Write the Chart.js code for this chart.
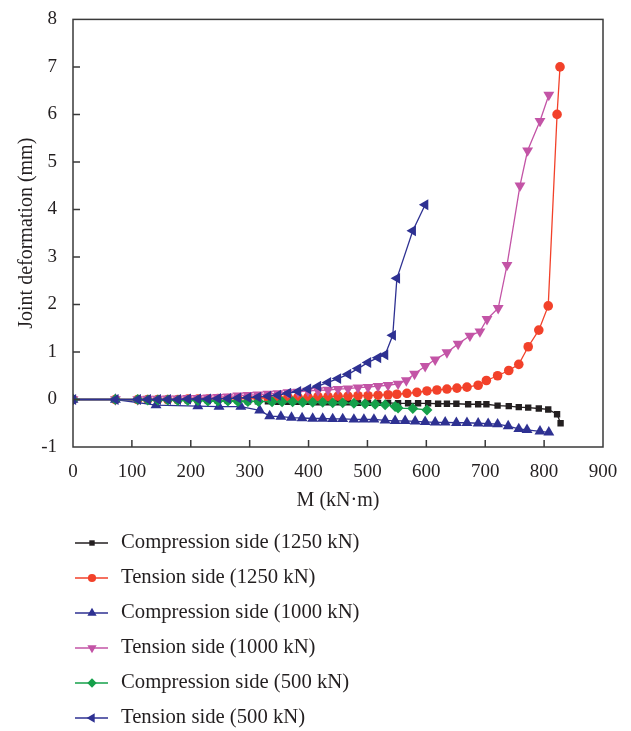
<!DOCTYPE html>
<html>
<head>
<meta charset="utf-8">
<script src="https://cdn.jsdelivr.net/npm/chart.js@4.4.1/dist/chart.umd.min.js"></script>
<style>
  html, body { margin: 0; padding: 0; background: #fff; }
  #wrap { width: 631px; height: 731px; }
</style>
</head>
<body>
<div id="wrap"><canvas id="chart" width="631" height="731"></canvas></div>
<script>
// axis ranges / ticks
const xTicks = [0, 100, 200, 300, 400, 500, 600, 700, 800, 900];
const yTicks = [-1, 0, 1, 2, 3, 4, 5, 6, 7, 8];

// Compression side (1250 kN)
const comp1250X = [0, 72, 110, 127, 144, 161, 178, 195, 212, 229, 246, 263, 280, 297, 314, 331, 348, 365, 382, 399, 416, 433, 450, 467, 484, 501, 518, 535, 552, 569, 586, 603, 620, 635, 651, 671, 688, 702, 721, 740, 757, 773, 791, 807, 822, 828];
const comp1250Y = [0, 0, -0.01, -0.01, -0.01, -0.01, -0.02, -0.02, -0.02, -0.02, -0.03, -0.03, -0.03, -0.04, -0.04, -0.04, -0.05, -0.05, -0.05, -0.05, -0.06, -0.06, -0.06, -0.06, -0.07, -0.07, -0.07, -0.07, -0.08, -0.08, -0.08, -0.08, -0.09, -0.09, -0.09, -0.1, -0.1, -0.1, -0.13, -0.14, -0.16, -0.17, -0.19, -0.21, -0.31, -0.5];

// Tension side (1250 kN)
const tens1250X = [0, 72, 110, 127, 144, 161, 178, 195, 212, 229, 246, 263, 280, 297, 314, 331, 348, 365, 382, 399, 416, 433, 450, 467, 484, 501, 518, 535, 550, 567, 584, 601, 618, 635, 652, 669, 688, 702, 721, 740, 757, 773, 791, 807, 822, 827];
const tens1250Y = [0, 0, 0, 0, 0, 0, 0, 0.01, 0.01, 0.01, 0.02, 0.02, 0.02, 0.03, 0.03, 0.04, 0.04, 0.05, 0.05, 0.05, 0.06, 0.06, 0.07, 0.07, 0.08, 0.08, 0.09, 0.1, 0.11, 0.13, 0.15, 0.18, 0.2, 0.22, 0.24, 0.26, 0.3, 0.4, 0.5, 0.61, 0.74, 1.11, 1.46, 1.97, 6.0, 7.0];

// Compression side (1000 kN)
const comp1000X = [0, 72, 141, 212, 248, 285, 317, 334, 353, 371, 389, 407, 424, 441, 458, 477, 494, 511, 530, 547, 564, 581, 598, 615, 632, 651, 669, 688, 705, 721, 739, 757, 771, 793, 808];
const comp1000Y = [0, 0, -0.12, -0.14, -0.15, -0.15, -0.23, -0.35, -0.36, -0.38, -0.39, -0.4, -0.4, -0.41, -0.41, -0.42, -0.42, -0.42, -0.44, -0.45, -0.45, -0.46, -0.47, -0.48, -0.48, -0.49, -0.49, -0.5, -0.51, -0.52, -0.56, -0.62, -0.64, -0.67, -0.69];

// Tension side (1000 kN)
const tens1000X = [0, 72, 110, 127, 144, 161, 178, 195, 212, 229, 246, 263, 280, 297, 314, 331, 348, 365, 382, 399, 416, 433, 450, 467, 484, 501, 518, 535, 552, 566, 580, 598, 615, 635, 654, 674, 691, 703, 722, 737, 759, 772, 793, 808];
const tens1000Y = [0, 0, 0, 0.01, 0.01, 0.02, 0.02, 0.03, 0.03, 0.04, 0.05, 0.06, 0.08, 0.09, 0.1, 0.12, 0.13, 0.15, 0.16, 0.18, 0.19, 0.2, 0.22, 0.23, 0.25, 0.26, 0.28, 0.3, 0.33, 0.4, 0.54, 0.7, 0.84, 0.99, 1.17, 1.34, 1.43, 1.69, 1.92, 2.83, 4.5, 5.24, 5.86, 6.41];

// Compression side (500 kN)
const comp500X = [0, 72, 110, 127, 144, 161, 178, 195, 212, 229, 246, 263, 280, 297, 315, 338, 355, 373, 390, 407, 424, 441, 458, 477, 496, 513, 530, 547, 552, 577, 601];
const comp500Y = [0, 0, 0, -0.01, -0.01, -0.01, -0.02, -0.02, -0.02, -0.03, -0.03, -0.03, -0.04, -0.04, -0.04, -0.05, -0.05, -0.05, -0.06, -0.06, -0.06, -0.07, -0.07, -0.08, -0.09, -0.1, -0.11, -0.15, -0.18, -0.19, -0.22];

// Tension side (500 kN)
const tens500X = [0, 72, 110, 127, 144, 161, 178, 195, 212, 229, 246, 263, 280, 297, 314, 331, 348, 365, 382, 399, 416, 433, 450, 467, 484, 501, 518, 530, 543, 550, 577, 598];
const tens500Y = [0, 0, 0, 0, 0, 0, 0, 0.01, 0.01, 0.01, 0.02, 0.02, 0.03, 0.04, 0.05, 0.07, 0.09, 0.13, 0.17, 0.22, 0.28, 0.36, 0.44, 0.53, 0.65, 0.78, 0.88, 0.94, 1.35, 2.55, 3.55, 4.1];

const FONT = '"Liberation Serif", "Times New Roman", serif';
const TXT = '#231f20';

function pts(xs, ys) {
  return xs.map((x, i) => ({ x: x, y: ys[i] }));
}

// marker sizes roughly as in the picture
const RADIUS = { rect: 4.5, circle: 4.8, triangle: 6.3, rectRot: 5.5 };

function series(label, xs, ys, color, style, rot, order) {
  return {
    label: label,
    data: pts(xs, ys),
    borderColor: color,
    backgroundColor: color,
    borderWidth: 1.3,
    pointStyle: style,
    rotation: rot,
    pointRadius: RADIUS[style],
    pointBorderWidth: 0,
    pointBackgroundColor: color,
    tension: 0,
    order: order
  };
}

const datasets = [
  series('Compression side (1250 kN)', comp1250X, comp1250Y, '#231f20', 'rect', 0, 5),
  series('Tension side (1250 kN)', tens1250X, tens1250Y, '#f2412a', 'circle', 0, 4),
  series('Compression side (1000 kN)', comp1000X, comp1000Y, '#2e3192', 'triangle', 0, 3),
  series('Tension side (1000 kN)', tens1000X, tens1000Y, '#c354a6', 'triangle', 180, 2),
  series('Compression side (500 kN)', comp500X, comp500Y, '#15a04a', 'rectRot', 0, 1),
  series('Tension side (500 kN)', tens500X, tens500Y, '#2e3192', 'triangle', -90, 0)
];

// frame + inward ticks
const framePlugin = {
  id: 'frame',
  afterDatasetsDraw(chart) {
    const { ctx, chartArea: a, scales } = chart;
    ctx.save();
    ctx.strokeStyle = '#3a3a3a';
    ctx.lineWidth = 1.5;
    ctx.strokeRect(a.left, a.top, a.right - a.left, a.bottom - a.top);
    ctx.beginPath();
    xTicks.forEach(v => {
      if (v === xTicks[0] || v === xTicks[xTicks.length - 1]) return;
      const px = scales.x.getPixelForValue(v);
      ctx.moveTo(px, a.bottom);
      ctx.lineTo(px, a.bottom - 7);
    });
    yTicks.forEach(v => {
      if (v === yTicks[0] || v === yTicks[yTicks.length - 1]) return;
      const py = scales.y.getPixelForValue(v);
      ctx.moveTo(a.left, py);
      ctx.lineTo(a.left + 7, py);
    });
    ctx.stroke();
    ctx.restore();
  }
};

// legend below the plot: line with marker in the middle
const legendPlugin = {
  id: 'sideLegend',
  afterDraw(chart) {
    const ctx = chart.ctx;
    ctx.save();
    chart.data.datasets.forEach((ds, i) => {
      const y = 543 + i * 35;
      ctx.strokeStyle = ds.borderColor;
      ctx.lineWidth = 1.5;
      ctx.beginPath();
      ctx.moveTo(75, y);
      ctx.lineTo(108, y);
      ctx.stroke();
      ctx.fillStyle = ds.backgroundColor;
      Chart.helpers.drawPoint(ctx, {
        pointStyle: ds.pointStyle,
        rotation: ds.rotation,
        radius: ds.pointRadius * 0.85,
        borderWidth: 0
      }, 92, y);
      ctx.fillStyle = TXT;
      ctx.font = '20.7px ' + FONT;
      ctx.textBaseline = 'middle';
      ctx.textAlign = 'left';
      ctx.fillText(ds.label, 121, y);
    });
    ctx.restore();
  }
};

new Chart(document.getElementById('chart'), {
  type: 'line',
  data: { datasets: datasets },
  options: {
    responsive: false,
    animation: false,
    layout: { padding: { left: 0, top: 18, right: 28, bottom: 214 } },
    plugins: { legend: { display: false }, tooltip: { enabled: false } },
    scales: {
      x: {
        type: 'linear',
        min: xTicks[0],
        max: xTicks[xTicks.length - 1],
        afterBuildTicks: s => { s.ticks = xTicks.map(v => ({ value: v })); },
        afterFit: s => { s.height = 70; },
        grid: { display: false },
        border: { display: false },
        ticks: { color: TXT, font: { family: FONT, size: 19 }, padding: 6, maxRotation: 0 },
        title: { display: true, text: 'M (kN·m)', color: TXT, font: { family: FONT, size: 20 }, padding: { top: 6 } }
      },
      y: {
        type: 'linear',
        min: yTicks[0],
        max: yTicks[yTicks.length - 1],
        afterBuildTicks: s => { s.ticks = yTicks.map(v => ({ value: v })); },
        afterFit: s => { s.width = 73; },
        grid: { display: false },
        border: { display: false },
        ticks: { color: TXT, font: { family: FONT, size: 19 }, padding: 8 },
        title: { display: true, text: 'Joint deformation (mm)', color: TXT, font: { family: FONT, size: 20 }, padding: { top: 15, bottom: 0 } }
      }
    }
  },
  plugins: [framePlugin, legendPlugin]
});
</script>
</body>
</html>
